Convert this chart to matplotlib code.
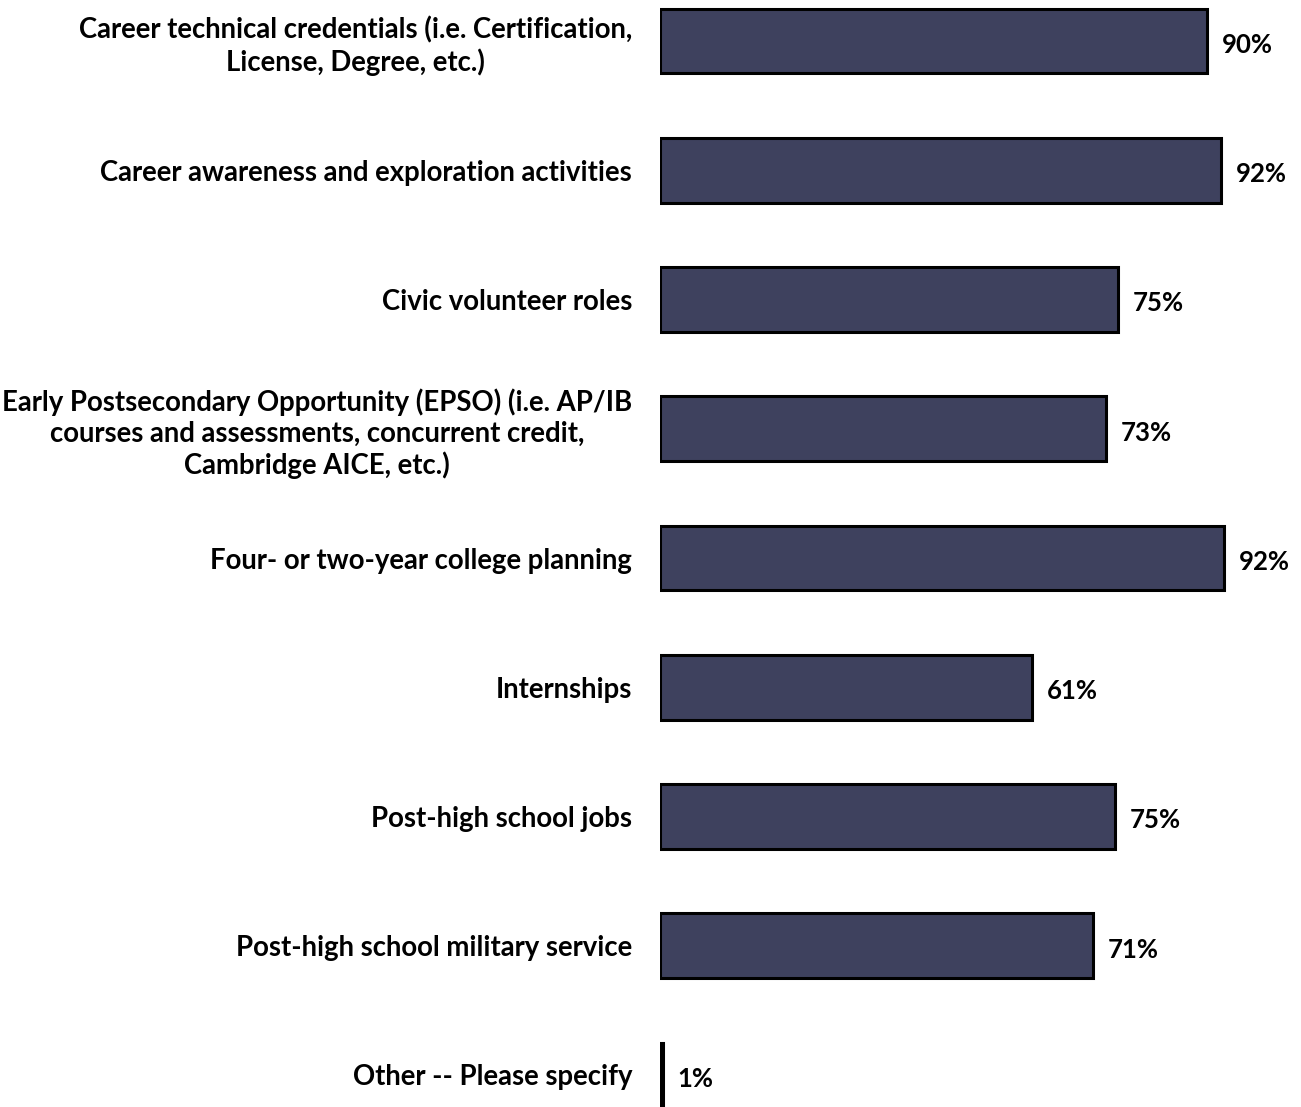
import matplotlib
matplotlib.use('Agg')
import matplotlib.pyplot as plt

plt.rcParams['font.family'] = ['Lato', 'DejaVu Sans']

# data
categories = [
    'Career technical credentials (i.e. Certification,\nLicense, Degree, etc.)',
    'Career awareness and exploration activities',
    'Civic volunteer roles',
    'Early Postsecondary Opportunity (EPSO) (i.e. AP/IB\ncourses and assessments, concurrent credit,\nCambridge AICE, etc.)',
    'Four- or two-year college planning',
    'Internships',
    'Post-high school jobs',
    'Post-high school military service',
    'Other -- Please specify',
]
values = [90.0, 92.3, 75.3, 73.4, 92.8, 61.2, 74.8, 71.2, 0.5]
value_labels = ['90%', '92%', '75%', '73%', '92%', '61%', '75%', '71%', '1%']

W, H, DPI = 1301, 1107, 100
fig = plt.figure(figsize=(W / DPI, H / DPI), dpi=DPI)

left_px = 660
px_per_pct = 6.08
right_px = W - 2
ax = fig.add_axes([left_px / W, 0, (right_px - left_px) / W, 1])
ax.set_xlim(0, (right_px - left_px) / px_per_pct)

first_c, step = 41, 129.25
ax.set_ylim((H - first_c) / step, -first_c / step)

ypos = list(range(len(categories)))
ax.barh(ypos, values, height=0.5, color='#3e415e', edgecolor='black',
        linewidth=2.2, zorder=2)

for y, v, lab in zip(ypos, values, value_labels):
    ax.text(v + 2.4, y + 0.03, lab, ha='left', va='center',
            fontsize=18.5, fontweight='bold', color='black')

ax.set_yticks(ypos)
ax.set_yticklabels(categories, fontsize=19.8, fontweight='bold',
                   ha='right', linespacing=1.22, multialignment='center')
ax.tick_params(axis='y', length=0, pad=20)
ax.set_xticks([])
for s in ax.spines.values():
    s.set_visible(False)

fig.savefig('out.png', dpi=DPI)
